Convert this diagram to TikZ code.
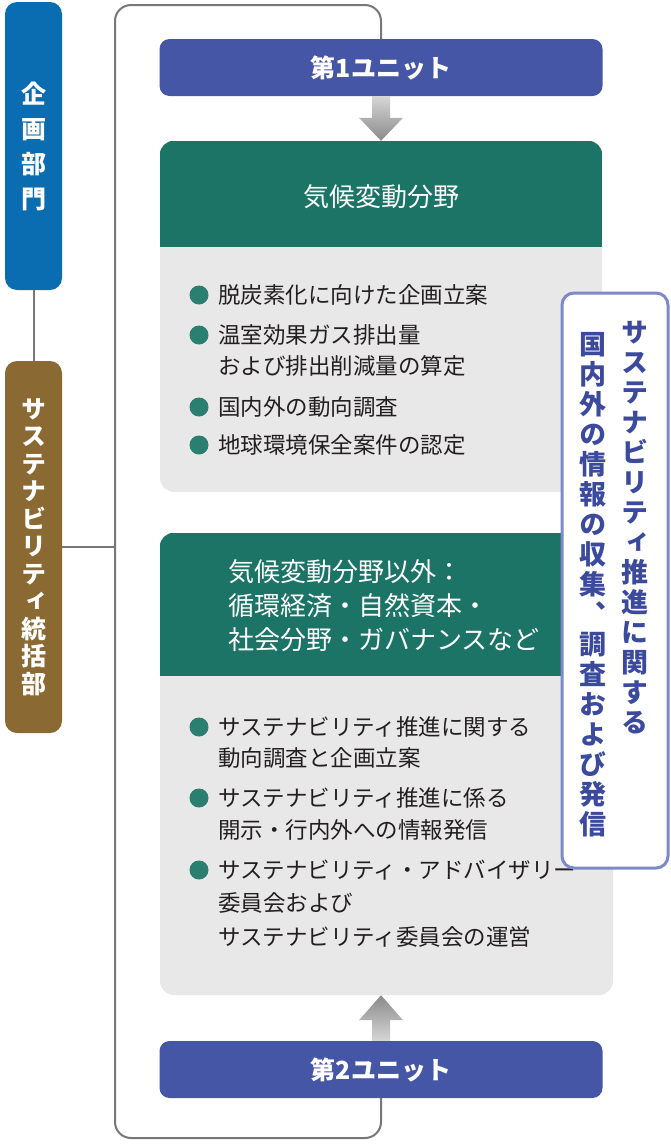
\documentclass[tikz,border=0pt]{standalone}
\usepackage{fontspec}
\newfontfamily\jp{Noto Sans CJK JP}
\newfontfamily\jpvert[RawFeature=+vert]{Noto Sans CJK JP}
\usetikzlibrary{calc}

\definecolor{planblue}{HTML}{0B6DB1}
\definecolor{sustbrown}{HTML}{8B6932}
\definecolor{unitblue}{HTML}{4656A6}
\definecolor{fieldgreen}{HTML}{1B7466}
\definecolor{fieldgray}{HTML}{E8E8E8}
\definecolor{bulletteal}{HTML}{2A7F70}
\definecolor{framegray}{HTML}{777777}
\definecolor{noteline}{HTML}{7E89C7}
\definecolor{noteblue}{HTML}{3C4A9D}
\definecolor{bodytext}{HTML}{231F20}
\definecolor{arrowdark}{HTML}{8A8A8A}
\definecolor{arrowlight}{HTML}{D6D6D6}

\tikzset{
  deptbox/.style={rounded corners=12pt, minimum width=57pt, inner sep=0pt, text=white, align=center, font=\jpvert\bfseries\fontsize{25}{35}\selectfont},
  unitbox/.style={fill=unitblue, rounded corners=10pt, minimum width=443pt, minimum height=57pt, inner sep=0pt, text=white, font=\jp\bfseries\fontsize{25}{30}\selectfont},
  fieldbox/.style={fill=fieldgray, rounded corners=14pt, inner sep=0pt},
  headtext/.style={text=white, inner sep=0pt, align=left, font=\jp\fontsize{26}{34}\selectfont},
  itemtext/.style={text=bodytext, inner sep=0pt, anchor=base west, font=\jp\fontsize{22.5}{31}\selectfont},
  notecolumn/.style={text=noteblue, inner sep=0pt, align=center, font=\jpvert\bfseries\fontsize{27}{30}\selectfont},
  linkline/.style={framegray, line width=2pt}
}

\begin{document}
\begin{tikzpicture}[x=1pt,y=-1pt]
  \useasboundingbox (0,0) rectangle (670,1144);

  % units and the frame joining them
  \node[unitbox] (unit1) at (381,67.5) {第1ユニット};
  \node[unitbox] (unit2) at (381,1069.5) {第2ユニット};
  \coordinate (frameNW) at (115,5);
  \coordinate (frameSW) at (115,1138);
  \draw[linkline, rounded corners=16pt] (unit1.north) |- (frameNW) -- (frameSW) -| (unit2.south);

  % departments
  \node[deptbox, fill=planblue, minimum height=288pt] (plan) at (33.5,146) {企\\画\\部\\門};
  \node[deptbox, fill=sustbrown, minimum height=372pt, font=\jpvert\bfseries\fontsize{25}{27.5}\selectfont] (sust) at (33.5,547) {サ\\ス\\テ\\ナ\\ビ\\リ\\テ\\ィ\\統\\括\\部};
  \draw[linkline] (plan) -- (sust);
  \draw[linkline] (sust.east) -- (sust.east -| frameNW);

  % climate field
  \node[fieldbox, minimum width=442pt, minimum height=351pt] (climate) at (381,316.5) {};
  \begin{scope}
    \clip[rounded corners=14pt] (climate.north west) rectangle (climate.south east);
    \fill[fieldgreen] (climate.north west) rectangle ([yshift=-106pt]climate.north east);
  \end{scope}
  \node[headtext] (climatehead) at (381,197) {気候変動分野};
  \foreach \y in {295,335,407,445}
    \fill[bulletteal] (199,\y) circle (9.5pt);
  \foreach \y/\txt [count=\i] in {295/脱炭素化に向けた企画立案, 335/温室効果ガス排出量, 366/および排出削減量の算定, 407/国内外の動向調査, 445/地球環境保全案件の認定}
    \node[itemtext] (climateitem\i) at (218,{\y+8}) {\txt};

  % other fields
  \node[fieldbox, minimum width=453pt, minimum height=462pt] (other) at (386.5,764) {};
  \begin{scope}
    \clip[rounded corners=14pt] (other.north west) rectangle (other.south east);
    \fill[fieldgreen] (other.north west) rectangle ([yshift=-143pt]other.north east);
  \end{scope}
  \node[headtext, anchor=west] (otherhead) at (228,606) {気候変動分野以外：\\循環経済・自然資本・\\社会分野・ガバナンスなど};
  \foreach \y in {727,798,870}
    \fill[bulletteal] (199,\y) circle (9.5pt);
  \foreach \y/\txt [count=\i] in {727/サステナビリティ推進に関する, 758/動向調査と企画立案, 798/サステナビリティ推進に係る, 830/開示・行内外への情報発信, 870/サステナビリティ・アドバイザリー, 903/委員会および, 937/サステナビリティ委員会の運営}
    \node[itemtext] (otheritem\i) at (218,{\y+8}) {\txt};

  % note on the right
  \node[draw=noteline, line width=3pt, fill=white, rounded corners=12pt, minimum width=106pt, minimum height=575pt, inner sep=0pt] (note) at (615,580.5) {};
  \node[notecolumn] (notefirst) at (635,527.5) {サ\\ス\\テ\\ナ\\ビ\\リ\\テ\\ィ\\推\\進\\に\\関\\す\\る};
  \node[notecolumn] (notesecond) at (593,585) {国\\内\\外\\の\\情\\報\\の\\収\\集\\、\\調\\査\\お\\よ\\び\\発\\信};

  % arrows
  \shade[top color=arrowlight, bottom color=arrowdark]
    ([xshift=-9pt]unit1.south) -- ([xshift=-9pt,yshift=23pt]climate.north) -- ([xshift=-22pt,yshift=23pt]climate.north)
    -- (climate.north) -- ([xshift=22pt,yshift=23pt]climate.north) -- ([xshift=9pt,yshift=23pt]climate.north)
    -- ([xshift=9pt]unit1.south) -- cycle;
  \coordinate (tip2) at (unit2.north |- other.south);
  \shade[top color=arrowdark, bottom color=arrowlight]
    ([xshift=-9pt]unit2.north) -- ([xshift=-9pt,yshift=-25pt]tip2) -- ([xshift=-22pt,yshift=-25pt]tip2)
    -- (tip2) -- ([xshift=22pt,yshift=-25pt]tip2) -- ([xshift=9pt,yshift=-25pt]tip2)
    -- ([xshift=9pt]unit2.north) -- cycle;
\end{tikzpicture}
\end{document}
